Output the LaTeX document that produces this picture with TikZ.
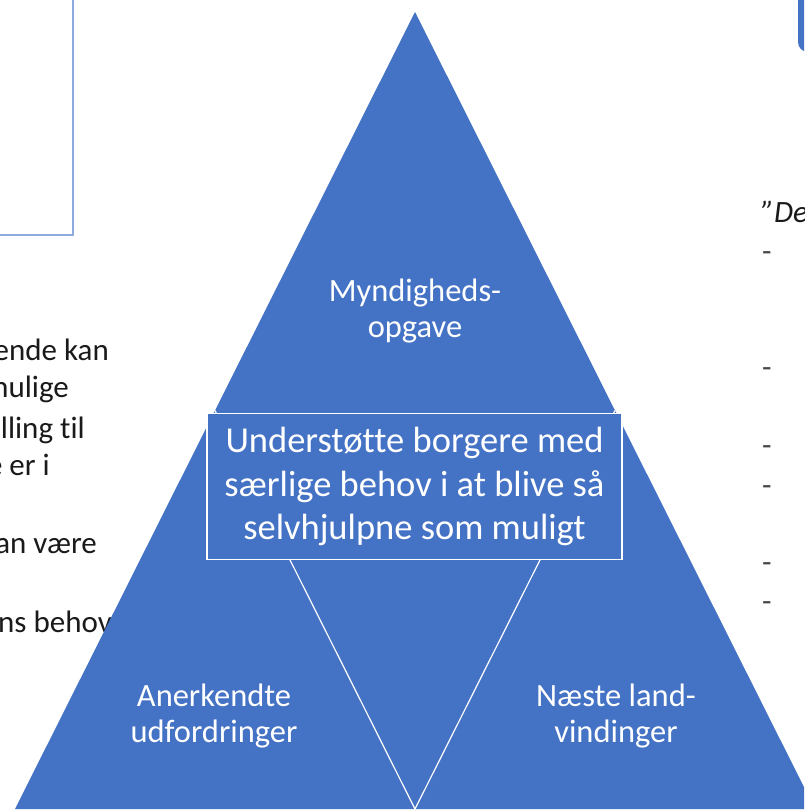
\documentclass[tikz,border=0pt]{standalone}
\usepackage{fontspec}
\setmainfont{Carlito}[Ligatures=CommonOff]
\usetikzlibrary{calc}
\definecolor{tri}{HTML}{4472C4}
\definecolor{frameblue}{HTML}{8FAADC}
\definecolor{ink}{HTML}{1A1A1A}
\tikzset{
  bodytext/.style={text=ink, font=\fontsize{31}{38}\selectfont, inner sep=0pt},
  tritext/.style={text=white, align=center, font=\fontsize{32.5}{36}\selectfont, inner sep=0pt},
  centrebox/.style={draw=white, line width=1.2pt, fill=tri, text=white, align=center,
    minimum width=415pt, minimum height=146pt, inner sep=0pt,
    font=\fontsize{36.5}{43.5}\selectfont},
  dashmark/.style={text=ink!80, font=\fontsize{31}{38}\selectfont, inner sep=0pt, anchor=base west}
}
\begin{document}
\begin{tikzpicture}[x=1pt,y=-1pt]
\useasboundingbox (0,0) rectangle (804,811);
\clip (0,0) rectangle (804,811);
\fill[white] (0,0) rectangle (804,811);

% frame at the top left
\draw[frameblue, line width=1.5pt] (-20,-20) rectangle (73,235);

% text running in from the left margin
\node[bodytext, anchor=base east] (l1) at (109,360) {skende kan};
\node[bodytext, anchor=base east] (l2) at (69,397) {mulige};
\node[bodytext, anchor=base east] (l3) at (85,438) {illing til};
\node[bodytext, anchor=base east] (l4) at (50,475) {e er i};
\node[bodytext, anchor=base east] (l5) at (97,553) {kan være};
\node[bodytext, anchor=base east] (l6) at (112,632) {ens behov};

% shape at the top right
\fill[tri, rounded corners=10pt] (798,-20) rectangle (840,52);

% quotation and list marks on the right
\node[text=ink, font=\fontsize{31}{38}\selectfont\itshape, inner sep=0pt, anchor=base west] (q) at (761,222) {”De};
\foreach \yy [count=\i] in {252,368,446,486,563,602}
  \node[dashmark] (d\i) at (762,\yy+9) {-};

% the pyramid
\coordinate (apex) at (415,12);
\coordinate (bl) at (15,809);
\coordinate (br) at (815,809);
\fill[tri] (apex) -- (bl) -- (br) -- cycle;

% inner triangle (midpoints of the sides)
\coordinate (ml) at ($(apex)!0.5!(bl)$);
\coordinate (mr) at ($(apex)!0.5!(br)$);
\coordinate (mb) at ($(bl)!0.5!(br)$);
\draw[white, line width=1.2pt] (ml) -- (mb) -- (mr);

% labels of the three corners
\node[tritext] (top) at (415,311) {Myndigheds-\\opgave};
\node[tritext] (left) at (214,716) {Anerkendte\\udfordringer};
\node[tritext] (right) at (616,716) {Næste land-\\vindinger};

% central statement
\node[centrebox] (centre) at (414.5,486.5) {Understøtte borgere med\\særlige behov i at blive så\\selvhjulpne som muligt};
\end{tikzpicture}
\end{document}
